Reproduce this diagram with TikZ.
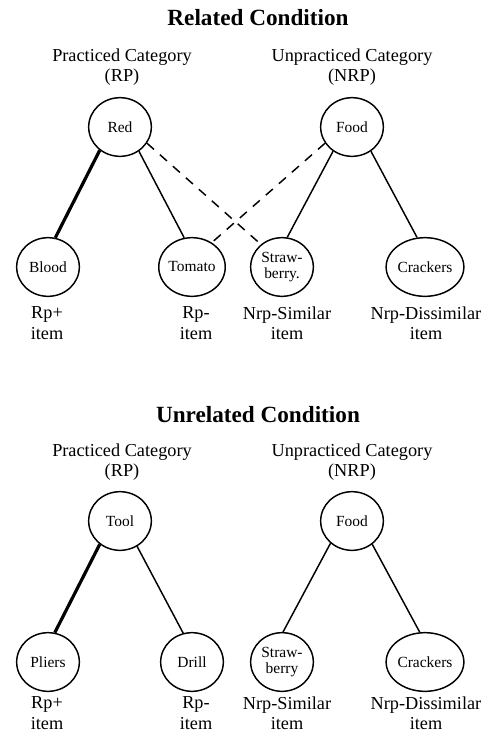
\documentclass[tikz,border=0pt]{standalone}
\usepackage{fontspec}
\setmainfont{Liberation Serif}
\usetikzlibrary{shapes.geometric}
\tikzset{
  cat/.style={ellipse,draw,line width=1.1pt,minimum width=47pt,minimum height=44pt,inner sep=0pt,
    font=\fontsize{11.6}{12.6}\selectfont,align=center},
  heading/.style={font=\fontsize{17.4}{20}\selectfont\bfseries},
  caption/.style={font=\fontsize{13.7}{15.2}\selectfont,align=center},
  link/.style={line width=1.1pt},
  stronglink/.style={line width=2.4pt},
  weaklink/.style={line width=1.1pt,dash pattern=on 7pt off 6pt}
}
\begin{document}
\begin{tikzpicture}[x=0.75pt,y=-0.75pt]
\useasboundingbox (0,0) rectangle (488,733);

% ---------- Related condition ----------
\node[heading] (t1) at (258,18) {Related Condition};
\node[caption] (rp1)  at (122,67) {Practiced Category\\(RP)};
\node[caption] (nrp1) at (352,67) {Unpracticed Category\\(NRP)};

\node[cat] (red)   at (120,127) {Red};
\node[cat] (food1) at (352,127) {Food};
\node[cat] (blood) at (48,267)  {Blood};
\node[cat] (tom)   at (192,267) {Tomato};
\node[cat] (str1)  at (282,267) {Straw-\\berry.};
\node[cat] (cra1)  at (425,267) {Crackers};

\draw[stronglink] (red.229) -- (blood.76);
\draw[link] (red.308) -- (tom.105);
\draw[link] (food1.232) -- (str1.80);
\draw[link] (food1.308) -- (cra1.105);
\draw[weaklink] (red.329) -- (str1.133);
\draw[weaklink] (food1.211) -- (tom.51);

\node[caption] (l1a) at (47,323)  {Rp+\\item};
\node[caption] (l1b) at (196,323) {Rp-\\item};
\node[caption] (l1c) at (287,323) {Nrp-Similar\\item};
\node[caption] (l1d) at (426,323) {Nrp-Dissimilar\\item};

% ---------- Unrelated condition ----------
\node[heading] (t2) at (258,415) {Unrelated Condition};
\node[caption] (rp2)  at (122,462) {Practiced Category\\(RP)};
\node[caption] (nrp2) at (352,462) {Unpracticed Category\\(NRP)};

\node[cat] (tool)   at (120,521) {Tool};
\node[cat] (food2)  at (352,521) {Food};
\node[cat] (pliers) at (48,662)  {Pliers};
\node[cat] (drill)  at (192,662) {Drill};
\node[cat] (str2)   at (282,662) {Straw-\\berry};
\node[cat] (cra2)   at (425,662) {Crackers};

\draw[stronglink] (tool.229) -- (pliers.77);
\draw[link] (tool.304) -- (drill.107);
\draw[link] (food2.226) -- (str2.88);
\draw[link] (food2.311) -- (cra2.100);

\node[caption] (l2a) at (47,713)  {Rp+\\item};
\node[caption] (l2b) at (196,713) {Rp-\\item};
\node[caption] (l2c) at (287,713) {Nrp-Similar\\item};
\node[caption] (l2d) at (426,713) {Nrp-Dissimilar\\item};
\end{tikzpicture}
\end{document}
